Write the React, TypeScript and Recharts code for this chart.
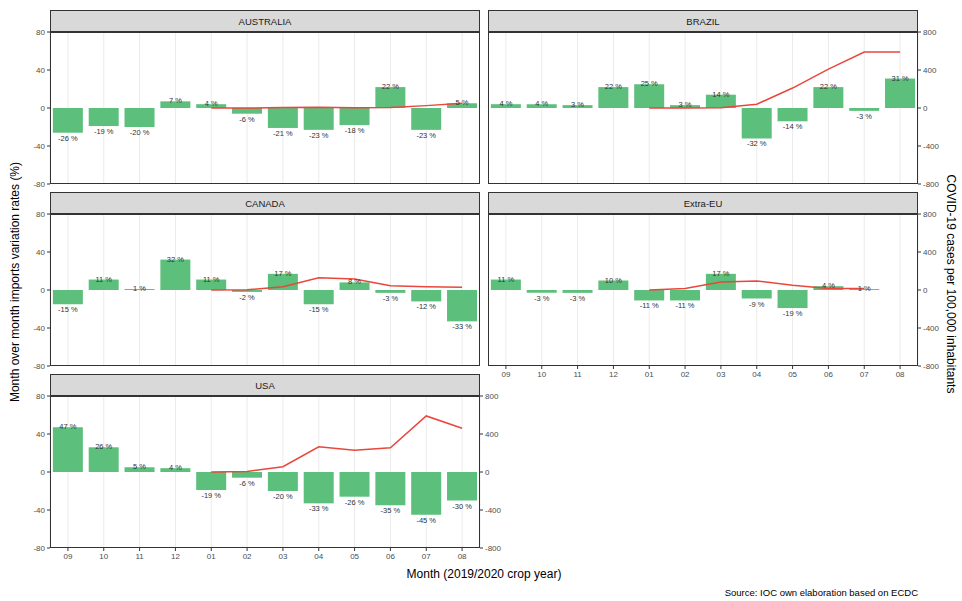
import { ComposedChart, Bar, Line, XAxis, YAxis, CartesianGrid, LabelList } from 'recharts';

// month of the 2019/2020 crop year
const months = ['09', '10', '11', '12', '01', '02', '03', '04', '05', '06', '07', '08'];

// month over month imports variation (%)
const australiaPct = [-26, -19, -20, 7, 4, -6, -21, -23, -18, 22, -23, 5];
const brazilPct = [4, 4, 3, 22, 25, 3, 14, -32, -14, 22, -3, 31];
const canadaPct = [-15, 11, 1, 32, 11, -2, 17, -15, 8, -3, -12, -33];
const extraEuPct = [11, -3, -3, 10, -11, -11, 17, -9, -19, 4, 1, null];
const usaPct = [47, 26, 5, 4, -19, -6, -20, -33, -26, -35, -45, -30];

// COVID-19 cases per 100,000 inhabitants
const australiaCovid = [null, null, null, null, 0, 0, 5, 8, 2, 5, 25, 50];
const brazilCovid = [null, null, null, null, 0, 0, 2, 40, 210, 410, 590, 590];
const canadaCovid = [null, null, null, null, 0, 2, 35, 130, 115, 45, 35, 30];
const extraEuCovid = [null, null, null, null, 0, 15, 85, 95, 50, 15, 15, null];
const usaCovid = [null, null, null, null, 0, 5, 55, 265, 230, 255, 590, 460];

const pctTicks = [-80, -40, 0, 40, 80];
const covidTicks = [-800, -400, 0, 400, 800];

const GREEN = '#5cbf7b';
const RED = '#e8473c';
const PLOT_W = 430;
const PLOT_H = 152;
const STRIP_H = 22;
const AXIS_W = 40;
const XAXIS_H = 20;
const PAD = 6; // room so the end tick labels are not clipped

function makeRows(pct: (number | null)[], covid: (number | null)[]) {
  return months.map((m, i) => ({ month: m, pct: pct[i], covid: covid[i] }));
}

function BarLabel(props: any) {
  const { x, y, width, height, value } = props;
  if (value == null) return null;
  const top = Math.min(y, y + height);
  const bottom = Math.max(y, y + height);
  const ty = value >= 0 ? top + 2 : bottom + 8;
  return (
    <text x={x + width / 2} y={ty} textAnchor="middle" fontSize={7.5} fill="#333">
      {`${value} %`}
    </text>
  );
}

const tickStyle = { fontSize: 8, fill: '#4d4d4d' };

function Panel({ title, pct, covid, left, top, showLeft, showRight, showX }: any) {
  const data = makeRows(pct, covid);
  const chartLeft = showLeft ? left - AXIS_W : left;
  const w = PLOT_W + (showLeft ? AXIS_W : 0) + (showRight ? AXIS_W : 0);
  const h = PLOT_H + PAD * 2 + (showX ? XAXIS_H : 0);
  return (
    <>
      <div
        style={{
          position: 'absolute', left, top, width: PLOT_W, height: STRIP_H,
          background: '#d9d9d9', border: '1px solid #333', boxSizing: 'border-box',
          display: 'flex', alignItems: 'center', justifyContent: 'center',
          fontSize: 9.5, color: '#1a1a1a',
        }}
      >
        {title}
      </div>
      <div style={{ position: 'absolute', left: chartLeft, top: top + STRIP_H - PAD }}>
        <ComposedChart width={w} height={h} data={data} margin={{ top: PAD, right: 0, bottom: PAD, left: 0 }} barCategoryGap="8%">
          <CartesianGrid yAxisId="l" horizontal={false} stroke="#ebebeb" />
          <XAxis
            dataKey="month" hide={!showX} height={XAXIS_H} interval={0}
            axisLine={false} tickLine={{ stroke: '#333' }} tickSize={3} tickMargin={2} tick={tickStyle}
          />
          <YAxis
            yAxisId="l" domain={[-80, 80]} ticks={pctTicks} interval={0} hide={!showLeft} width={AXIS_W}
            axisLine={false} tickLine={{ stroke: '#333' }} tickSize={3} tickMargin={2} tick={tickStyle}
          />
          <YAxis
            yAxisId="r" orientation="right" domain={[-800, 800]} ticks={covidTicks} interval={0} hide={!showRight} width={AXIS_W}
            axisLine={false} tickLine={{ stroke: '#333' }} tickSize={3} tickMargin={2} tick={tickStyle}
          />
          <Bar yAxisId="l" dataKey="pct" fill={GREEN} isAnimationActive={false}>
            <LabelList dataKey="pct" content={BarLabel} />
          </Bar>
          <Line
            yAxisId="r" dataKey="covid" type="linear" stroke={RED} strokeWidth={1.5}
            dot={false} activeDot={false} connectNulls={false} isAnimationActive={false}
          />
        </ComposedChart>
      </div>
      <div
        style={{
          position: 'absolute', left, top: top + STRIP_H, width: PLOT_W, height: PLOT_H,
          border: '1px solid #333', boxSizing: 'border-box', pointerEvents: 'none',
        }}
      />
    </>
  );
}

export default function App() {
  return (
    <div
      style={{
        position: 'absolute', left: 0, top: 0, width: 962, height: 601, background: '#fff',
        fontFamily: '"Liberation Sans", Arial, sans-serif', overflow: 'hidden',
      }}
    >
      <Panel title="AUSTRALIA" pct={australiaPct} covid={australiaCovid} left={50} top={10} showLeft />
      <Panel title="BRAZIL" pct={brazilPct} covid={brazilCovid} left={488} top={10} showRight />
      <Panel title="CANADA" pct={canadaPct} covid={canadaCovid} left={50} top={192} showLeft />
      <Panel title="Extra-EU" pct={extraEuPct} covid={extraEuCovid} left={488} top={192} showRight showX />
      <Panel title="USA" pct={usaPct} covid={usaCovid} left={50} top={374} showLeft showRight showX />

      <div
        style={{
          position: 'absolute', left: 15, top: 282, transform: 'translate(-50%, -50%) rotate(-90deg)',
          whiteSpace: 'nowrap', fontSize: 12, color: '#000',
        }}
      >
        Month over month imports variation rates (%)
      </div>
      <div
        style={{
          position: 'absolute', left: 951, top: 284, transform: 'translate(-50%, -50%) rotate(90deg)',
          whiteSpace: 'nowrap', fontSize: 12, color: '#000',
        }}
      >
        COVID-19 cases per 100,000 inhabitants
      </div>
      <div
        style={{
          position: 'absolute', left: 484, top: 574, transform: 'translate(-50%, -50%)',
          whiteSpace: 'nowrap', fontSize: 12, color: '#000',
        }}
      >
        Month (2019/2020 crop year)
      </div>
      <div
        style={{
          position: 'absolute', right: 44, top: 592, transform: 'translateY(-50%)',
          whiteSpace: 'nowrap', fontSize: 9.5, color: '#000',
        }}
      >
        Source: IOC own elaboration based on ECDC
      </div>
    </div>
  );
}
